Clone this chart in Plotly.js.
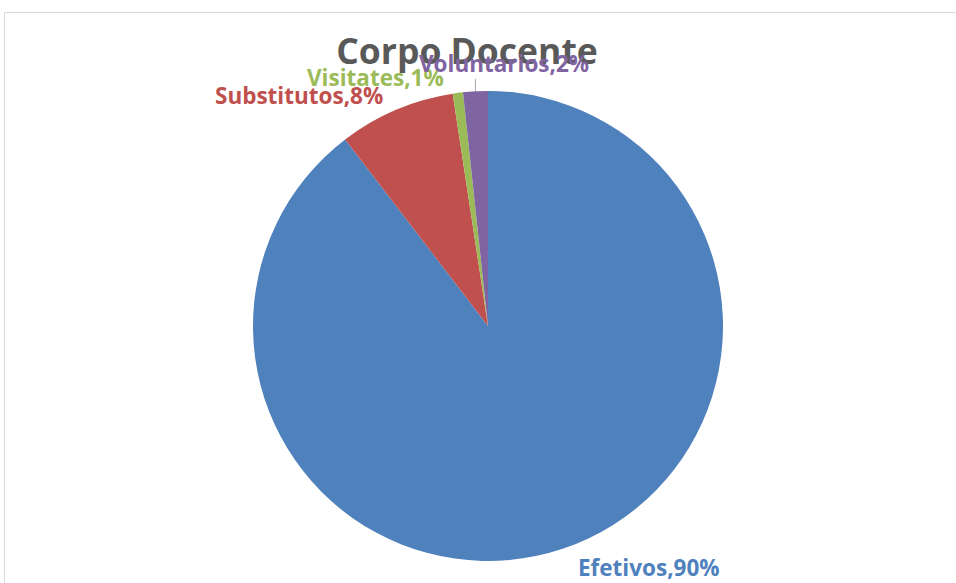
<!DOCTYPE html>
<html>
<head>
<meta charset="utf-8">
<script src="https://cdn.plot.ly/plotly-3.0.1.min.js"></script>
<style>
  html, body { margin: 0; padding: 0; background: #fff; overflow: hidden; width: 956px; height: 583px; }
  #frame { position: absolute; left: 4px; top: 12px; width: 1000px; height: 1000px; border: 1px solid #d9d9d9; }
  #chart { position: absolute; left: 0; top: 0; width: 956px; height: 583px; }
</style>
</head>
<body>
<div id="frame"></div>
<div id="chart"></div>
<script>
// ---- data ----
const categories = ["Efetivos", "Substitutos", "Visitates", "Voluntarios"];
const values = [89.6, 8.0, 0.7, 1.7];
const titleText = "Corpo Docente";

// ---- styles / positions (pixels in the 956x583 canvas) ----
const colors = ["#4F81BD", "#C0504D", "#9BBB59", "#8064A2"];
const W = 956, H = 583;
const M = { l: 253, r: 233, t: 91, b: 22 };
const plotW = W - M.l - M.r, plotH = H - M.t - M.b;
// label anchor: center x, baseline y
const labelPos = [[649, 576], [299, 104], [375, 86], [504, 72]];
const leaderTopY = 79;
const fontSize = 22.5;

const px2x = px => (px - M.l) / plotW;
const py2y = py => (H - M.b - py) / plotH;

const total = values.reduce((a, b) => a + b, 0);
const cx = M.l + plotW / 2, cy = M.t + plotH / 2, R = Math.min(plotW, plotH) / 2;

const annotations = categories.map((c, i) => {
  const pct = Math.round(values[i] / total * 100);
  return {
    text: c + "," + pct + "%",
    xref: "paper", yref: "paper",
    x: px2x(labelPos[i][0]),
    y: py2y(labelPos[i][1] - 0.36 * fontSize),
    xanchor: "center", yanchor: "middle",
    showarrow: false,
    font: { family: "Open Sans", size: fontSize, weight: "bold", color: colors[i] }
  };
});

// leader line for the last (smallest top) slice, from its mid-angle on the rim
const cumBefore = values.slice(0, 3).reduce((a, b) => a + b, 0);
const midFrac = (cumBefore + values[3] / 2) / total;
const ang = midFrac * 2 * Math.PI;
const rimX = cx + R * Math.sin(ang), rimY = cy - R * Math.cos(ang);

const trace = {
  type: "pie",
  labels: categories,
  values: values,
  sort: false,
  direction: "clockwise",
  rotation: 0,
  marker: { colors: colors, line: { width: 0 } },
  textinfo: "none",
  hoverinfo: "none",
  showlegend: false,
  automargin: false
};

const layout = {
  width: W,
  height: H,
  margin: M,
  paper_bgcolor: "rgba(0,0,0,0)",
  plot_bgcolor: "rgba(0,0,0,0)",
  showlegend: false,
  title: {
    text: titleText,
    font: { family: "Open Sans", size: 35.5, weight: "bold", color: "#595959" },
    x: 467 / W,
    xanchor: "center",
    xref: "container",
    y: 1 - 39 / H,
    yanchor: "top",
    yref: "container"
  },
  annotations: annotations,
  shapes: [{
    type: "line", xref: "paper", yref: "paper",
    x0: px2x(rimX), x1: px2x(rimX),
    y0: py2y(rimY), y1: py2y(leaderTopY),
    line: { color: "#a6a6a6", width: 1 }
  }]
};

Plotly.newPlot("chart", [trace], layout, { displayModeBar: false, staticPlot: true });
</script>
</body>
</html>
